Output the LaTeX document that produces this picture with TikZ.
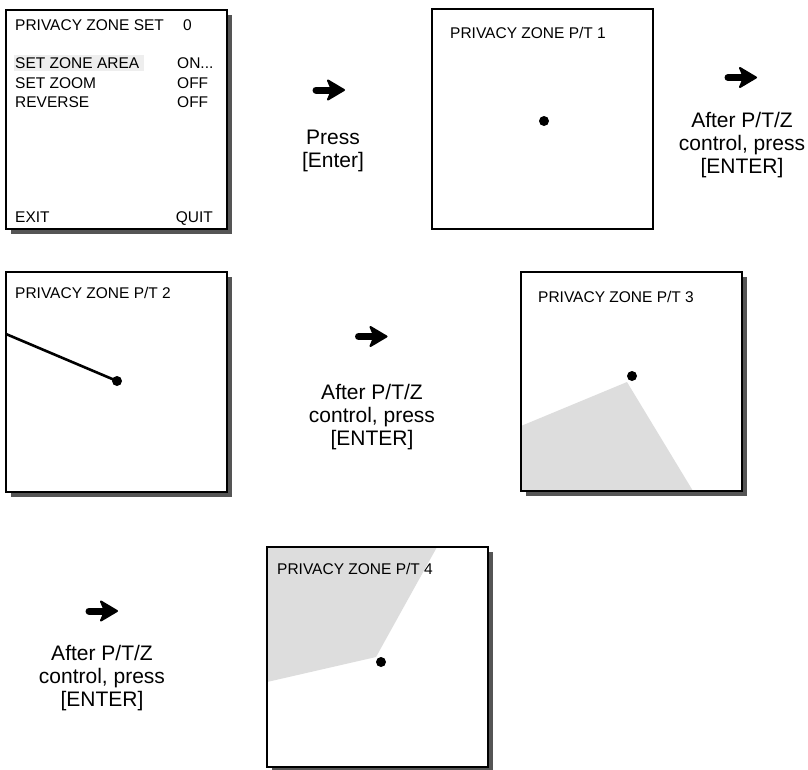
\documentclass[tikz,border=0pt]{standalone}
\usepackage{fontspec}
\setmainfont{Liberation Sans}
\definecolor{shadowgray}{HTML}{555555}
\definecolor{zonegray}{HTML}{DDDDDD}
\definecolor{hlgray}{HTML}{EEEEEE}
\tikzset{
  screen/.style={draw=black, line width=1.1pt, fill=white},
  shd/.style={fill=shadowgray},
  zone/.style={fill=zonegray},
  boxtxt/.style={font=\fontsize{15.5}{18}\selectfont, inner sep=0pt, anchor=base west},
  boxtxtr/.style={font=\fontsize{15.5}{18}\selectfont, inner sep=0pt, anchor=base east},
  lbl/.style={font=\fontsize{21}{23}\selectfont, inner sep=0pt, anchor=base},
  dotst/.style={circle, fill=black, inner sep=0pt, minimum size=10pt},
  fatarrow/.pic={
    \draw[line width=7pt, line cap=round] (-13,0) -- (3,0);
    \filldraw[line width=2pt, line join=round] (-1,-9.5) -- (15,0) -- (-1,9.5) -- (3,0) -- cycle;
  }
}
\begin{document}
\begin{tikzpicture}[x=1pt,y=-1pt]
\useasboundingbox (0,0) rectangle (808,769);
\clip (0,0) rectangle (808,769);

% Box 1: menu
\fill[shd] (11,15) rectangle (232,234);
\draw[screen] (6,10) rectangle (227,229);
\fill[hlgray] (14,55) rectangle (144,71);
\node[boxtxt] (t1) at (15,30.6) {PRIVACY ZONE SET};
\node[boxtxt] (t1n) at (183,30.6) {0};
\node[boxtxt] (m1) at (15,68.6) {SET ZONE AREA};
\node[boxtxt] (v1) at (177,68.6) {ON...};
\node[boxtxt] (m2) at (15,88.6) {SET ZOOM};
\node[boxtxt] (v2) at (177,88.6) {OFF};
\node[boxtxt] (m3) at (15,107.6) {REVERSE};
\node[boxtxt] (v3) at (177,107.6) {OFF};
\node[boxtxt] (exit) at (15,222.6) {EXIT};
\node[boxtxtr] (quit) at (213,222.6) {QUIT};

% Arrow 1
\pic at (329,90) {fatarrow};
\node[lbl] (l1a) at (333,144.5) {Press};
\node[lbl] (l1b) at (333,167.5) {[Enter]};

% Box 2
\draw[screen] (432,9) rectangle (653,229);
\node[boxtxt] (t2) at (450,38.6) {PRIVACY ZONE P/T 1};
\node[dotst] (d2) at (544,121) {};

% Arrow 2
\pic at (741,77.5) {fatarrow};
\node[lbl] (l2a) at (742,127.5) {After P/T/Z};
\node[lbl] (l2b) at (742,150.5) {control, press};
\node[lbl] (l2c) at (742,173.5) {[ENTER]};

% Box 3
\fill[shd] (11,277) rectangle (232,497);
\draw[screen] (6,272) rectangle (227,492);
\node[boxtxt] (t3) at (15,298.6) {PRIVACY ZONE P/T 2};
\node[dotst] (d3) at (117,381) {};
\coordinate (e3) at (6,334);
\draw[line width=2.6pt] (e3) -- (d3.center);

% Arrow 3
\pic at (371.5,336.5) {fatarrow};
\node[lbl] (l3a) at (372,399.5) {After P/T/Z};
\node[lbl] (l3b) at (372,422.5) {control, press};
\node[lbl] (l3c) at (372,445.5) {[ENTER]};

% Box 4
\fill[shd] (526,277) rectangle (747,496);
\fill[white] (521,272) rectangle (742,491);
\fill[zone] (521,426) -- (627,382) -- (693,491) -- (521,491) -- cycle;
\draw[line width=1.1pt] (521,272) rectangle (742,491);
\node[boxtxt] (t4) at (538,302.6) {PRIVACY ZONE P/T 3};
\node[dotst] (d4) at (632,376) {};

% Arrow 4
\pic at (102,611) {fatarrow};
\node[lbl] (l4a) at (102,660.5) {After P/T/Z};
\node[lbl] (l4b) at (102,683.5) {control, press};
\node[lbl] (l4c) at (102,706.5) {[ENTER]};

% Box 5
\fill[shd] (272,552) rectangle (493,772);
\fill[white] (267,547) rectangle (488,767);
\fill[zone] (267,547) -- (437,547) -- (376,657) -- (267,682) -- cycle;
\draw[line width=1.1pt] (267,547) rectangle (488,767);
\node[boxtxt] (t5) at (277,574.6) {PRIVACY ZONE P/T 4};
\node[dotst] (d5) at (381,662) {};
\end{tikzpicture}
\end{document}
